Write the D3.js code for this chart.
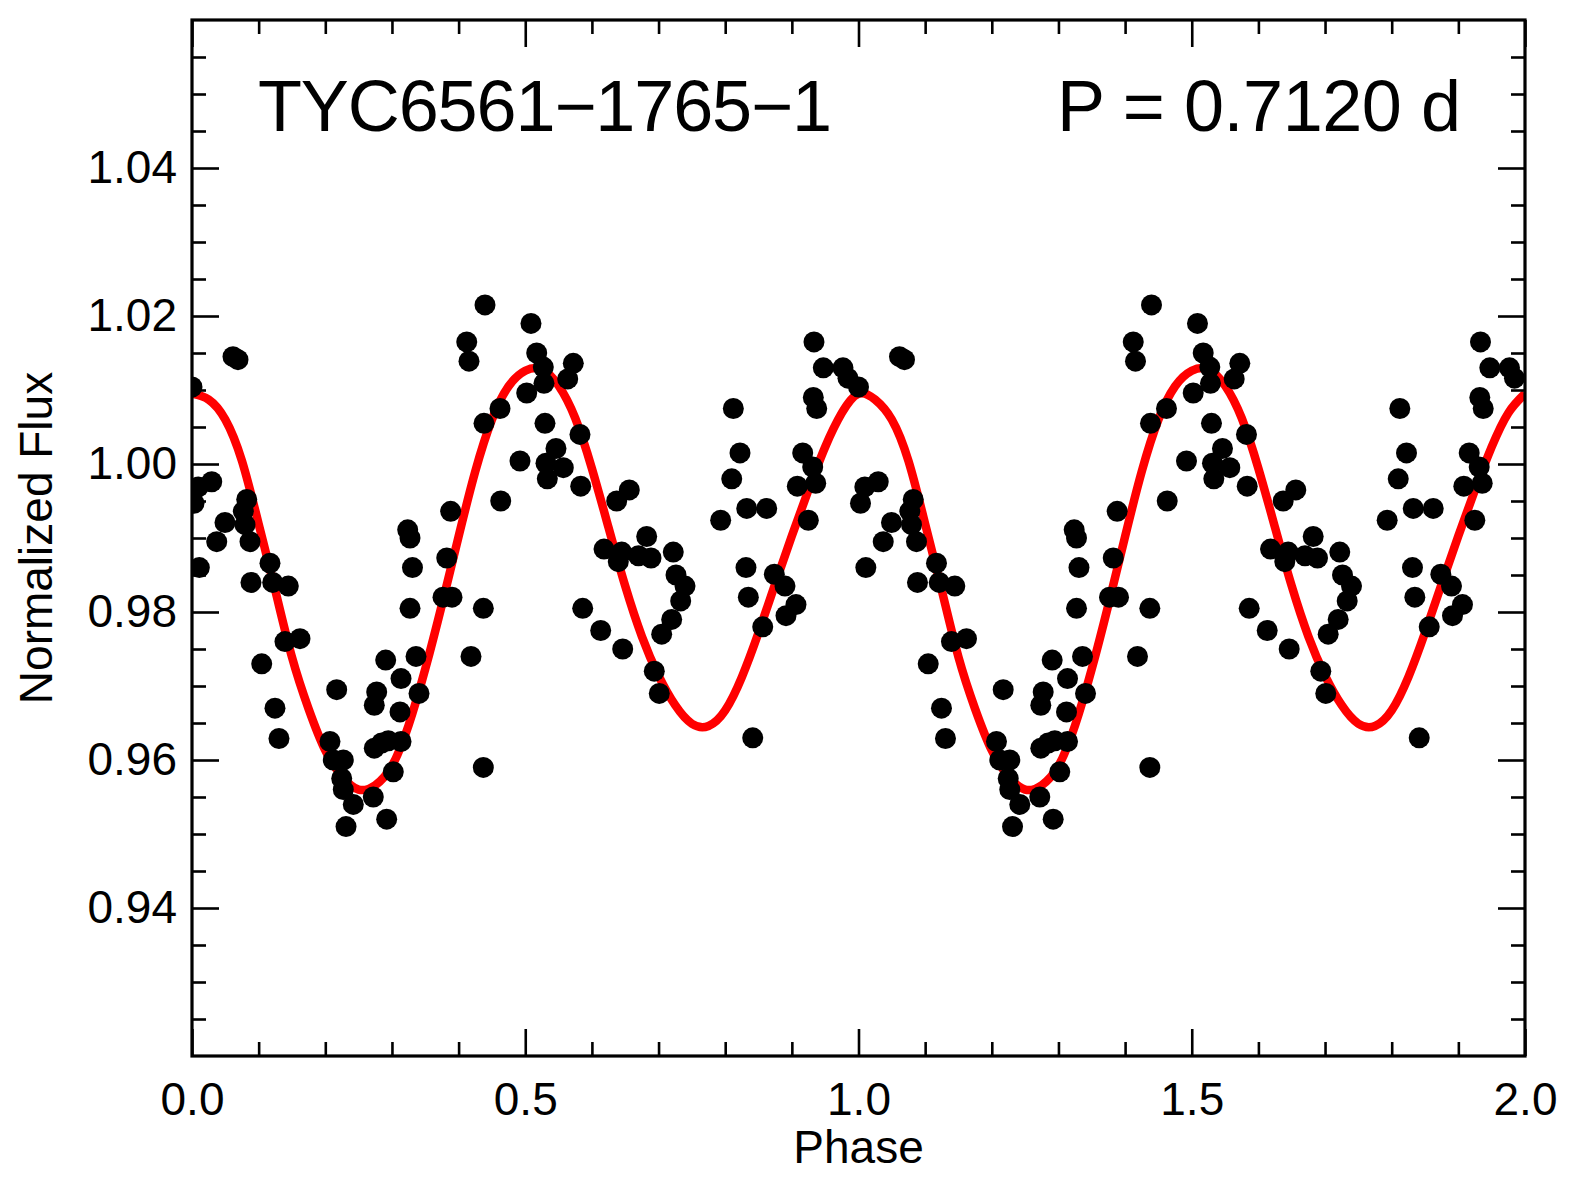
<!DOCTYPE html>
<html>
<head>
<meta charset="utf-8">
<script src="https://cdn.jsdelivr.net/npm/d3@7"></script>
<style>
html,body{margin:0;padding:0;background:#ffffff;}
svg{display:block;}
</style>
</head>
<body>
<script>
// ---------------- data ----------------
const starName = "TYC6561\u22121765\u22121";
const periodLabel = "P = 0.7120 d";
const xTitle = "Phase";
const yTitle = "Normalized Flux";

// observed points for one cycle (phase 0..1); plotted again at phase+1
const pointPhase = [
  0.000, 0.0615, 0.069, 0.0296, 0.0095, 0.003, 0.0821, 0.077, 0.0495, 0.0795,
  0.0371, 0.087, 0.117, 0.011, 0.3236, 0.3271, 0.3308, 0.0885, 0.1211, 0.1445,
  0.1395, 0.162, 0.1046, 0.1245, 0.1305, 0.2171, 0.207, 0.212, 0.227, 0.2246,
  0.227, 0.242, 0.2311, 0.272, 0.2921, 0.2906, 0.2771, 0.2735, 0.3136, 0.3121,
  0.2735, 0.2846, 0.2945, 0.3136, 0.302, 0.3271, 0.3361, 0.3406, 0.4396, 0.5086,
  0.4122, 0.4156, 0.5172, 0.5271, 0.5281, 0.5022, 0.5721, 0.5637, 0.4621, 0.4381,
  0.5296, 0.5821, 0.5461, 0.4921, 0.5311, 0.5571, 0.5331, 0.5832, 0.6561, 0.6372,
  0.4632, 0.3881, 0.3822, 0.3766, 0.3901, 0.4371, 0.4186, 0.4371, 0.6182, 0.6447,
  0.6396, 0.6699, 0.5862, 0.6132, 0.6462, 0.9332, 0.9472, 0.9767, 0.9842, 0.9322,
  0.9373, 0.8122, 0.8222, 0.9163, 0.9313, 0.9358, 0.9082, 0.8098, 0.8323, 0.8623,
  0.7932, 0.9247, 0.6822, 0.6887, 0.7221, 0.7262, 0.7397, 0.7332, 0.7197, 0.7047,
  0.6936, 0.7011, 0.8312, 0.8347, 0.8737, 0.8897, 0.9062, 0.8912, 0.8563, 0.8413
];
const pointFlux = [
  1.0104, 1.0145, 1.0141, 0.9976, 0.9969, 0.9947, 0.9952, 0.9936, 0.9921, 0.9918,
  0.9895, 0.9895, 0.9866, 0.9860, 0.9911, 0.9900, 0.9860, 0.9840, 0.9840, 0.9835,
  0.9760, 0.9764, 0.9730, 0.9670, 0.9629, 0.9695, 0.9625, 0.9600, 0.9600, 0.9575,
  0.9560, 0.9540, 0.9510, 0.9550, 0.9520, 0.9735, 0.9692, 0.9674, 0.9710, 0.9665,
  0.9616, 0.9623, 0.9626, 0.9625, 0.9584, 0.9805, 0.9740, 0.9690, 1.0215, 1.0190,
  1.0165, 1.0139, 1.0150, 1.0131, 1.0109, 1.0096, 1.0136, 1.0115, 1.0075, 1.0055,
  1.0055, 1.0040, 1.0021, 1.0004, 1.0001, 0.9995, 0.9980, 0.9970, 0.9965, 0.9950,
  0.9950, 0.9936, 0.9873, 0.9820, 0.9820, 0.9805, 0.9740, 0.9590, 0.9885, 0.9881,
  0.9868, 0.9876, 0.9805, 0.9775, 0.9750, 1.0165, 1.0130, 1.0130, 1.0116, 1.0090,
  1.0075, 1.0075, 1.0015, 1.0015, 0.9996, 0.9974, 0.9970, 0.9980, 0.9940, 0.9940,
  0.9924, 0.9924, 0.9902, 0.9873, 0.9881, 0.9850, 0.9835, 0.9815, 0.9790, 0.9770,
  0.9720, 0.9690, 0.9860, 0.9820, 0.9851, 0.9835, 0.9810, 0.9795, 0.9780, 0.9630
];

// model curve samples for one cycle (phase 0..1); repeated for phase 1..2
const modelPhase = [
  0.000, 0.025, 0.050, 0.075, 0.100, 0.125, 0.150, 0.175, 0.200, 0.225,
  0.250, 0.275, 0.300, 0.325, 0.350, 0.375, 0.400, 0.425, 0.450, 0.475,
  0.500, 0.525, 0.550, 0.575, 0.600, 0.625, 0.650, 0.675, 0.700, 0.725,
  0.750, 0.775, 0.800, 0.825, 0.850, 0.875, 0.900, 0.925, 0.950, 0.975,
  1.000
];
const modelFlux = [
  1.0095, 1.0087, 1.0060, 1.0004, 0.9919, 0.9829, 0.9739, 0.9669, 0.9613, 0.9578,
  0.9560, 0.9566, 0.9592, 0.9647, 0.9723, 0.9810, 0.9902, 0.9990, 1.0060, 1.0105,
  1.0126, 1.0128, 1.0106, 1.0062, 0.9994, 0.9914, 0.9835, 0.9767, 0.9714, 0.9674,
  0.9649, 0.9646, 0.9667, 0.9712, 0.9772, 0.9838, 0.9903, 0.9965, 1.0023, 1.0069,
  1.0095
];

const xMajorTicks = [0.0, 0.5, 1.0, 1.5, 2.0];
const xMinorTicks = [0.1, 0.2, 0.3, 0.4, 0.6, 0.7, 0.8, 0.9, 1.1, 1.2, 1.3, 1.4, 1.6, 1.7, 1.8, 1.9];
const yMajorTicks = [0.94, 0.96, 0.98, 1.00, 1.02, 1.04];
const yMinorTicks = [0.925, 0.930, 0.935, 0.945, 0.950, 0.955, 0.965, 0.970, 0.975,
  0.985, 0.990, 0.995, 1.005, 1.010, 1.015, 1.025, 1.030, 1.035, 1.045, 1.050, 1.055];
const xDomain = [0, 2];
const yDomain = [0.92, 1.06];

// ---------------- layout ----------------
const W = 1583, H = 1183;
const pL = 192, pR = 1525, pT = 20, pB = 1056;
const FONT = "'Liberation Sans', Arial, Helvetica, sans-serif";

const svg = d3.select("body").append("svg")
  .attr("width", W).attr("height", H)
  .attr("viewBox", `0 0 ${W} ${H}`);
svg.append("rect").attr("width", W).attr("height", H).attr("fill", "#ffffff");

const x = d3.scaleLinear().domain(xDomain).range([pL, pR]);
const y = d3.scaleLinear().domain(yDomain).range([pB, pT]);

svg.append("defs").append("clipPath").attr("id", "plotclip")
  .append("rect").attr("x", pL).attr("y", pT)
  .attr("width", pR - pL).attr("height", pB - pT);

const plot = svg.append("g").attr("clip-path", "url(#plotclip)");

// model curve (two cycles, one continuous path)
const modelData = modelPhase.map((p, i) => ({p: p, f: modelFlux[i]}))
  .concat(modelPhase.slice(1).map((p, i) => ({p: p + 1, f: modelFlux[i + 1]})));
const line = d3.line().x(d => x(d.p)).y(d => y(d.f)).curve(d3.curveNatural);
plot.append("path").datum(modelData)
  .attr("d", line)
  .attr("fill", "none")
  .attr("stroke", "#ff0000")
  .attr("stroke-width", 8.5)
  .attr("stroke-linejoin", "round");

// points (two cycles)
const pts = [];
pointPhase.forEach((p, i) => {
  pts.push({p: p, f: pointFlux[i]});
  pts.push({p: p + 1, f: pointFlux[i]});
});
plot.selectAll("circle.pt").data(pts).enter().append("circle")
  .attr("class", "pt")
  .attr("cx", d => x(d.p))
  .attr("cy", d => y(d.f))
  .attr("r", 10.5)
  .attr("fill", "#000000");

// ---------------- axes ----------------
function styleAxis(g) {
  g.select(".domain").remove();
  g.selectAll(".tick line").attr("stroke", "#000").attr("stroke-width", 2.6);
  g.selectAll(".tick text").attr("fill", "#000")
    .style("font-family", FONT).style("font-size", "46px");
}

// bottom
svg.append("g").attr("transform", `translate(0,${pB})`)
  .call(d3.axisBottom(x).tickValues(xMinorTicks).tickSize(-14).tickFormat(""))
  .call(styleAxis);
svg.append("g").attr("transform", `translate(0,${pB})`)
  .call(d3.axisBottom(x).tickValues(xMajorTicks).tickSize(-27).tickPadding(26).tickFormat(d3.format(".1f")))
  .call(styleAxis);
// top
svg.append("g").attr("transform", `translate(0,${pT})`)
  .call(d3.axisTop(x).tickValues(xMinorTicks).tickSize(-14).tickFormat(""))
  .call(styleAxis);
svg.append("g").attr("transform", `translate(0,${pT})`)
  .call(d3.axisTop(x).tickValues(xMajorTicks).tickSize(-27).tickFormat(""))
  .call(styleAxis);
// left
svg.append("g").attr("transform", `translate(${pL},0)`)
  .call(d3.axisLeft(y).tickValues(yMinorTicks).tickSize(-14).tickFormat(""))
  .call(styleAxis);
svg.append("g").attr("transform", `translate(${pL},0)`)
  .call(d3.axisLeft(y).tickValues(yMajorTicks).tickSize(-27).tickPadding(15).tickFormat(d3.format(".2f")))
  .call(styleAxis);
// right
svg.append("g").attr("transform", `translate(${pR},0)`)
  .call(d3.axisRight(y).tickValues(yMinorTicks).tickSize(-14).tickFormat(""))
  .call(styleAxis);
svg.append("g").attr("transform", `translate(${pR},0)`)
  .call(d3.axisRight(y).tickValues(yMajorTicks).tickSize(-27).tickFormat(""))
  .call(styleAxis);

// frame
svg.append("rect")
  .attr("x", pL).attr("y", pT)
  .attr("width", pR - pL).attr("height", pB - pT)
  .attr("fill", "none").attr("stroke", "#000").attr("stroke-width", 3.2);

// axis titles
svg.append("text")
  .attr("x", (pL + pR) / 2).attr("y", 1163)
  .attr("text-anchor", "middle")
  .style("font-family", FONT).style("font-size", "46px")
  .attr("fill", "#000")
  .text(xTitle);
svg.append("text")
  .attr("transform", `translate(52,${(pT + pB) / 2}) rotate(-90)`)
  .attr("text-anchor", "middle")
  .style("font-family", FONT).style("font-size", "46px")
  .attr("fill", "#000")
  .text(yTitle);

// annotations
svg.append("text")
  .attr("x", 258).attr("y", 131)
  .style("font-family", FONT).style("font-size", "72px")
  .attr("textLength", 574).attr("lengthAdjust", "spacing")
  .attr("fill", "#000")
  .text(starName);
svg.append("text")
  .attr("x", 1057).attr("y", 131)
  .style("font-family", FONT).style("font-size", "72px")
  .attr("textLength", 404).attr("lengthAdjust", "spacing")
  .attr("fill", "#000")
  .text(periodLabel);
</script>
</body>
</html>
